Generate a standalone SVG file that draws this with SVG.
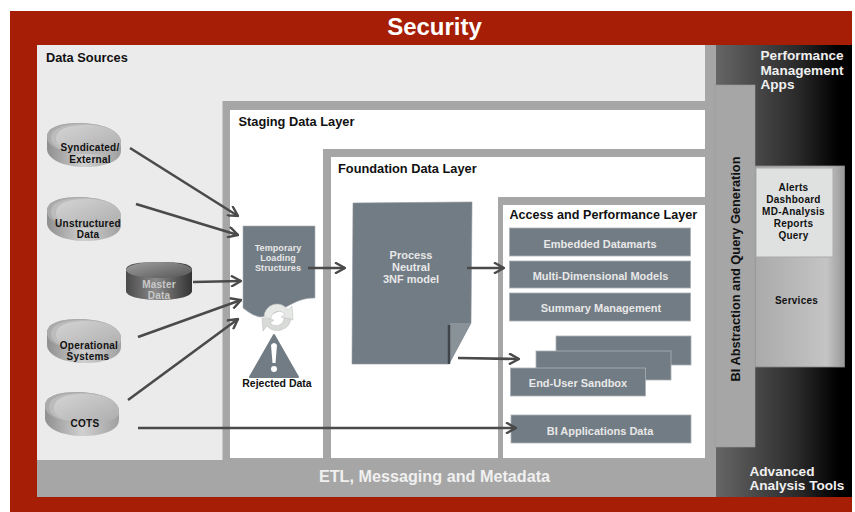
<svg xmlns="http://www.w3.org/2000/svg" width="855" height="512" viewBox="0 0 855 512">
<defs>
<linearGradient id="dark" x1="0" x2="1" y1="0" y2="0"><stop offset="0" stop-color="#666"/><stop offset="0.6" stop-color="#2a2a2a"/><stop offset="0.9" stop-color="#000"/></linearGradient>
<linearGradient id="disk" x1="0" x2="1" y1="0" y2="0"><stop offset="0" stop-color="#8f8f8f"/><stop offset="0.5" stop-color="#d0d0d0"/><stop offset="1" stop-color="#a0a0a0"/></linearGradient>
<linearGradient id="diskTop" x1="0" x2="1" y1="0" y2="1"><stop offset="0" stop-color="#d4d4d4"/><stop offset="1" stop-color="#adadad"/></linearGradient>
<linearGradient id="master" x1="0" x2="1" y1="0" y2="0"><stop offset="0" stop-color="#4a4a4a"/><stop offset="0.45" stop-color="#8a8a8a"/><stop offset="1" stop-color="#333"/></linearGradient>
<linearGradient id="masterTop" x1="0" x2="1" y1="0" y2="1"><stop offset="0" stop-color="#a0a0a0"/><stop offset="1" stop-color="#555"/></linearGradient>
<linearGradient id="svc" x1="0" x2="1" y1="0" y2="0"><stop offset="0" stop-color="#aaa"/><stop offset="0.8" stop-color="#c4c4c4"/><stop offset="1" stop-color="#999"/></linearGradient>
<marker id="arrow" viewBox="0 0 12 12" refX="11" refY="6" markerWidth="12" markerHeight="12" markerUnits="userSpaceOnUse" orient="auto"><path d="M1 .5 L11 6 L1 11.5" fill="none" stroke="#4a4a4a" stroke-width="2.4"/></marker>
<g id="stack">
<path d="M0 14 C0 4 14 0 32 0 C52 0 74 6 74 20 V28 C74 38 58 44 38 44 C16 44 0 36 0 26 Z" fill="url(#disk)"/>
<path d="M0 14 C0 4 14 0 32 0 C52 0 74 6 74 20 C74 28 58 31 38 31 C16 31 0 24 0 14 Z" fill="#ababab"/>
<path d="M4 15 C4 5 18 1 36 1 C54 1 74 7 74 20 C74 28 58 31 40 31 C20 31 4 25 4 15 Z" fill="#bcbcbc"/>
<path d="M9 16 C9 6 22 2 40 2 C58 2 74 8 74 20 C74 28 60 31 44 31 C24 31 9 26 9 16 Z" fill="url(#diskTop)"/>
</g>
</defs>
<style>
text{font-family:"Liberation Sans",Arial,sans-serif;font-weight:700;text-anchor:middle}
.h{font-size:12.8px;fill:#111;text-anchor:start}
.d{font-size:10px;letter-spacing:.25px;fill:#111}
.w{font-size:11px;fill:#e8e8e8}
.sm{font-size:9px;letter-spacing:.1px;fill:#e8e8e8}
.box{fill:#727c85;stroke:#aab0b5;stroke-width:.8}
.side{font-size:13.6px;fill:#f0f0f0;text-anchor:start}
.c{fill:none;stroke:#4a4a4a;stroke-width:2.6;marker-end:url(#arrow)}
</style>
<rect width="855" height="512" fill="#fff"/>
<rect x="10" y="11" width="842" height="501" fill="#a51e05"/>
<text x="434.500" y="35" fill="#fff" style="font-size:24px">Security</text>

<g id="panels">
<rect x="37" y="45" width="679" height="452" fill="#a6a6a6"/>
<rect x="37" y="45" width="668" height="415" fill="#ebebeb"/>
<rect x="716" y="45" width="136" height="452" fill="url(#dark)"/>
<rect x="222.500" y="101" width="482.500" height="359" fill="#a6a6a6"/>
<rect x="230" y="110" width="475" height="348" fill="#fff"/>
<rect x="323" y="149" width="382" height="311" fill="#a6a6a6"/>
<rect x="331" y="157" width="374" height="301" fill="#fff"/>
<rect x="498" y="197" width="207" height="263" fill="#a6a6a6"/>
<rect x="503" y="205" width="202" height="253" fill="#fff"/>
<rect x="705" y="45" width="11" height="452" fill="#a6a6a6"/>
<text class="h" x="46" y="62">Data Sources</text>
<text class="h" x="238.500" y="126">Staging Data Layer</text>
<text class="h" x="338" y="173">Foundation Data Layer</text>
<text class="h" x="509.500" y="219" style="font-size:12.6px">Access and Performance Layer</text>
<text x="434.500" y="482" fill="#f0f0f0" style="font-size:16.2px">ETL, Messaging and Metadata</text>
<text class="side" x="760.500" y="60">Performance</text>
<text class="side" x="760.500" y="74.500">Management</text>
<text class="side" x="760.500" y="89">Apps</text>
<text class="side" x="749.500" y="476">Advanced</text>
<text class="side" x="749.500" y="490">Analysis Tools</text>
</g>

<g id="services">
<rect x="755" y="166" width="89.500" height="201" fill="url(#svc)" stroke="#888" stroke-width=".8"/>
<rect x="756" y="168" width="77" height="89" fill="#dfe1e1" stroke="#aaa" stroke-width="1"/>
<text x="793.500" y="190.500" class="d">Alerts</text>
<text x="793.500" y="202.500" class="d">Dashboard</text>
<text x="793.500" y="214.500" class="d">MD-Analysis</text>
<text x="793.500" y="226.500" class="d">Reports</text>
<text x="793.500" y="238.500" class="d">Query</text>
<text x="796.500" y="304" class="d">Services</text>
</g>
<g id="bi-abstraction">
<rect x="715" y="85" width="40" height="362" fill="#a6a6a6" stroke="#999" stroke-width=".6"/>
<text transform="translate(739.500 269) rotate(-90)" fill="#111" style="font-size:12.8px">BI Abstraction and Query Generation</text>
</g>

<g id="syndicated"><use href="#stack" x="47" y="123"/><text class="d" x="90" y="151">Syndicated/</text><text class="d" x="90" y="163">External</text></g>
<g id="unstructured"><use href="#stack" x="47" y="197"/><text class="d" x="88" y="226.500">Unstructured</text><text class="d" x="88" y="238">Data</text></g>
<g id="master-data">
<path d="M126 270 C126 262 146 262 159 262 C172 262 192 262 192 270 V291 C192 297 175 300 159 300 C143 300 126 297 126 291 Z" fill="url(#master)"/>
<ellipse cx="159" cy="270" rx="33" ry="8" fill="url(#masterTop)"/>
<text class="d" x="159" y="287.500" style="fill:#c8c8c8">Master</text><text class="d" x="159" y="299" style="fill:#c8c8c8">Data</text>
</g>
<g id="operational"><use href="#stack" x="47" y="319"/><text class="d" x="89" y="348.500">Operational</text><text class="d" x="88" y="360">Systems</text></g>
<g id="cots"><use href="#stack" x="45" y="392"/><text class="d" x="85" y="427">COTS</text></g>

<g id="temporary">
<path d="M243 226 H315 V298 C302 298 296 302 288 306 C278 311 268 317 260 317 C254 316 248 312 243 308 Z" fill="#727c85" stroke="#aab0b5" stroke-width=".6"/>
<text class="sm" x="278" y="251">Temporary</text><text class="sm" x="278" y="261">Loading</text><text class="sm" x="278" y="271">Structures</text>
</g>
<g id="rejected">
<path d="M264 317 A13 13 0 0 1 288 310 L292 306 L293 320 L281 317 L285 314 A8 8 0 0 0 271 319 Z" fill="#e6e8e6" stroke="#bbb" stroke-width=".5"/>
<path d="M291 319 A14 14 0 0 1 267 326 L263 331 L262 318 L274 320 L270 323 A8 8 0 0 0 284 318 Z" fill="#d8dad8" stroke="#bbb" stroke-width=".5"/>
<path d="M274 335 L298 377 H250 Z" fill="#727c85" stroke="#727c85" stroke-width="2" stroke-linejoin="round"/>
<path d="M271 345 Q274 341 277 345 L275.500 363 H272.500 Z" fill="#fff"/>
<circle cx="274" cy="369" r="3" fill="#fff"/>
<text x="277" y="387" fill="#111" style="font-size:10.500px">Rejected Data</text>
</g>
<g id="process">
<path d="M353 203 L472 202 L471 323 L449 364 H352 Z" fill="#727c85" stroke="#8d959c" stroke-width=".6"/>
<path d="M449 364 V325 L451 323 H471 Z" fill="#8a9299"/>
<path d="M449 325 V364" stroke="#3e444a" stroke-width="2.500" fill="none"/>
<text class="w" x="411" y="259">Process</text><text class="w" x="411" y="271">Neutral</text><text class="w" x="411" y="283">3NF model</text>
</g>
<g id="embedded"><rect class="box" x="509.500" y="228" width="181" height="28"/><text class="w" x="600" y="248">Embedded Datamarts</text></g>
<g id="multi"><rect class="box" x="509.500" y="261" width="181" height="27"/><text class="w" x="600.500" y="280">Multi-Dimensional Models</text></g>
<g id="summary"><rect class="box" x="509.500" y="293" width="181" height="28"/><text class="w" x="601" y="312">Summary Management</text></g>
<g id="sandbox">
<rect class="box" x="556" y="336" width="135" height="29"/>
<rect class="box" x="536" y="351" width="135" height="29"/>
<rect class="box" x="510.500" y="368" width="135" height="28"/>
<text class="w" x="578" y="387">End-User Sandbox</text>
</g>
<g id="bi-apps"><rect class="box" x="511" y="415" width="180" height="28"/><text class="w" x="600" y="435">BI Applications Data</text></g>

<g id="connectors">
<path class="c" d="M130 148 L238 216"/>
<path class="c" d="M136 204 L238 235"/>
<path class="c" d="M193 282 L241 281"/>
<path class="c" d="M138 337 L241 300"/>
<path class="c" d="M128 400 L238 319"/>
<path class="c" d="M138 428 L516 428"/>
<path class="c" d="M308 268 L345 268"/>
<path class="c" d="M467 268 L504 268"/>
<path class="c" d="M458 358 L519 359"/>
</g>
</svg>
